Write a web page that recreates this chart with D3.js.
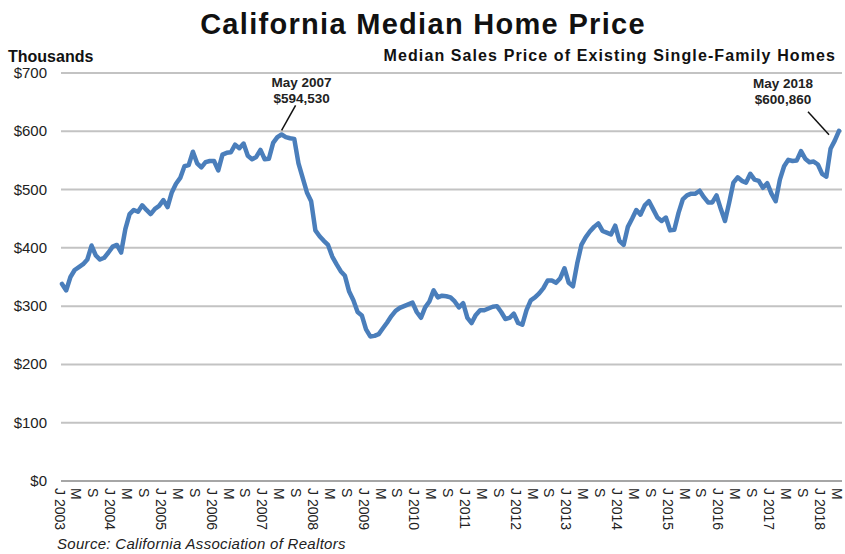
<!DOCTYPE html>
<html>
<head>
<meta charset="utf-8">
<script src="https://cdn.jsdelivr.net/npm/d3@7"></script>
<style>
  body { margin: 0; background: #fff; }
  svg { font-family: "Liberation Sans", Arial, sans-serif; }
</style>
</head>
<body>
<div id="chart"></div>
<script>
// monthly median price, thousands of dollars, Jan 2003 .. May 2018
const startYear = 2003;
const prices = [
  338, 327, 350, 362, 367, 372, 380, 404, 387, 380, 383, 392,
  402, 405, 392, 432, 458, 465, 462, 473, 465, 458, 467, 472,
  482, 470, 495, 510, 520, 540, 542, 565, 545, 538, 547, 549,
  549, 533, 560, 563, 564, 577, 571, 579, 558, 552, 556, 568,
  552, 553, 580, 590, 594.53, 590, 588, 587, 545, 520, 495, 480,
  430, 420, 412, 405, 385, 372, 360, 352, 325, 310, 290, 284,
  260, 248, 249, 252, 262, 272, 283, 292, 297, 300, 303, 306,
  290, 280, 298, 308, 327, 315, 318, 317, 315, 308, 298, 305,
  280, 271, 285, 293, 293, 296, 299, 300, 290, 278, 280, 287,
  271, 268, 293, 310, 315, 322, 331, 344, 344, 340, 348, 365,
  340, 334, 373, 405, 418, 428, 436, 442, 429, 426, 423, 438,
  412, 405, 436, 450, 465, 457, 473, 480, 466, 452, 446, 452,
  430, 431, 460, 483, 490, 493, 493, 498, 487, 478, 478, 490,
  467, 446, 478, 512, 521, 515, 512, 527, 517, 515, 503, 511,
  493, 480, 517, 540, 551, 549, 550, 566, 553, 547, 548, 543,
  527, 522, 570, 584, 600.86
];
const monthLetters = ["J", "F", "M", "A", "M", "J", "J", "A", "S", "O", "N", "D"];
const monthNames = ["Jan", "Feb", "Mar", "Apr", "May", "Jun", "Jul", "Aug", "Sep", "Oct", "Nov", "Dec"];
const yTicks = [0, 100, 200, 300, 400, 500, 600, 700];
const callouts = [
  { index: 52, price: 594530 },
  { index: 184, price: 600860 }
];

const width = 845, height = 554;
const margin = { left: 62, right: 6, top: 73, bottom: 73 };

const svg = d3.select("#chart").append("svg")
  .attr("width", width)
  .attr("height", height);

const x = d3.scalePoint()
  .domain(d3.range(prices.length))
  .range([margin.left, 839]);

const y = d3.scaleLinear()
  .domain([0, 700])
  .range([height - margin.bottom, margin.top]);

// gridlines
svg.append("g")
  .selectAll("line")
  .data(yTicks.filter(d => d > 0))
  .join("line")
  .attr("x1", 61).attr("x2", width - 3)
  .attr("y1", d => y(d)).attr("y2", d => y(d))
  .attr("stroke", "#c3c3c3")
  .attr("stroke-width", 2);

// y labels
svg.append("g")
  .selectAll("text")
  .data(yTicks)
  .join("text")
  .attr("x", 47)
  .attr("y", d => y(d) + 5)
  .attr("text-anchor", "end")
  .attr("font-size", 15)
  .attr("fill", "#222")
  .text(d => "$" + d);

// x axis
const xAxis = d3.axisBottom(x)
  .tickValues(d3.range(0, prices.length, 4))
  .tickSize(0)
  .tickFormat(i => {
    const m = i % 12;
    return m === 0 ? "J " + (startYear + i / 12) : monthLetters[m];
  });

const gx = svg.append("g")
  .attr("transform", "translate(0," + y(0) + ")")
  .call(xAxis);

gx.select(".domain")
  .attr("d", "M61,0H" + (width - 3))
  .attr("stroke", "#a6a6a6")
  .attr("stroke-width", 2);

gx.selectAll("text")
  .attr("font-family", "Liberation Sans, Arial, sans-serif")
  .attr("font-size", 14)
  .attr("fill", "#222")
  .attr("text-anchor", "start")
  .attr("y", 0)
  .attr("transform", "translate(-3,7) rotate(90)")
  .attr("dx", 0)
  .attr("dy", "0.35em");

// line
const line = d3.line()
  .x((d, i) => x(i))
  .y(d => y(d));

svg.append("path")
  .datum(prices)
  .attr("fill", "none")
  .attr("stroke", "#4a7ebb")
  .attr("stroke-width", 4.5)
  .attr("stroke-linejoin", "round")
  .attr("stroke-linecap", "round")
  .attr("d", line);

// callouts
const fmt = d3.format(",");
const offsets = [
  { tx: 20, ty: -47, x1: 0, y1: -4, x2: 14, y2: -29 },
  { tx: -56, ty: -43, x1: -10, y1: 4, x2: -31, y2: -19 }
];
callouts.forEach((c, k) => {
  const px = x(c.index), py = y(prices[c.index]);
  const o = offsets[k];
  const m = c.index % 12;
  svg.append("line")
    .attr("x1", px + o.x1).attr("y1", py + o.y1)
    .attr("x2", px + o.x2).attr("y2", py + o.y2)
    .attr("stroke", "#111")
    .attr("stroke-width", 1.5);
  const t = svg.append("text")
    .attr("text-anchor", "middle")
    .attr("font-size", 13.5)
    .attr("font-weight", "bold")
    .attr("fill", "#222");
  t.append("tspan")
    .attr("x", px + o.tx).attr("y", py + o.ty)
    .text(monthNames[m] + " " + (startYear + Math.floor(c.index / 12)));
  t.append("tspan")
    .attr("x", px + o.tx).attr("y", py + o.ty + 16)
    .text("$" + fmt(c.price));
});

// titles
svg.append("text")
  .attr("x", 423).attr("y", 34)
  .attr("text-anchor", "middle")
  .attr("font-size", 29)
  .attr("letter-spacing", 1.3)
  .attr("font-weight", "bold")
  .attr("fill", "#111")
  .text("California Median Home Price");

svg.append("text")
  .attr("x", 836).attr("y", 61)
  .attr("text-anchor", "end")
  .attr("font-size", 16)
  .attr("letter-spacing", 1.1)
  .attr("font-weight", "bold")
  .attr("fill", "#111")
  .text("Median Sales Price of Existing Single-Family Homes");

svg.append("text")
  .attr("x", 8).attr("y", 62)
  .attr("font-size", 16)
  .attr("font-weight", "bold")
  .attr("fill", "#111")
  .text("Thousands");

svg.append("text")
  .attr("x", 57).attr("y", 549)
  .attr("font-size", 15)
  .attr("letter-spacing", 0.3)
  .attr("font-style", "italic")
  .attr("fill", "#222")
  .text("Source: California Association of Realtors");
</script>
</body>
</html>
